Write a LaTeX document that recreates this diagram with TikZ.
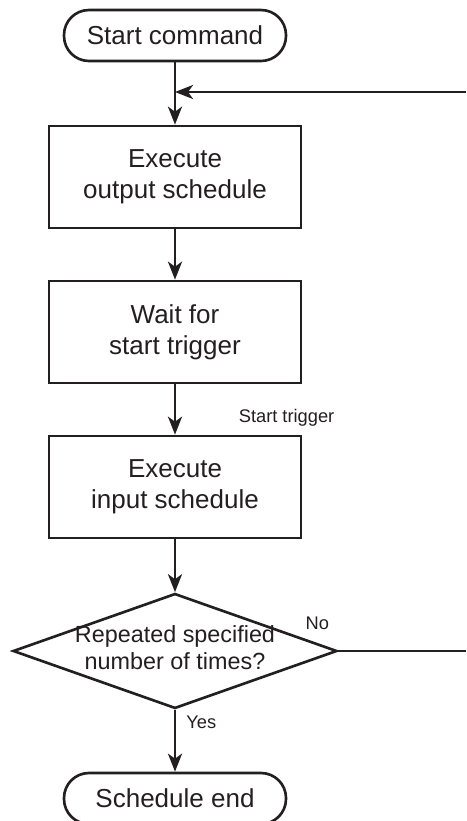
\documentclass[tikz,border=0pt]{standalone}
\usepackage{fontspec}
\setmainfont{Liberation Sans}
\usetikzlibrary{arrows.meta, shapes.geometric, positioning}
\definecolor{LineDark}{RGB}{35,31,32}

\begin{document}
\begin{tikzpicture}[
    term/.style={rectangle,rounded corners=0.5cm,draw=LineDark,line width=1.5pt,
                 text=LineDark,font=\fontsize{14.8}{17.8}\selectfont,
                 minimum width=4.44cm,minimum height=1.02cm},
    proc/.style={rectangle,draw=LineDark,line width=1.5pt,text=LineDark,
                 font=\fontsize{14.8}{17.8}\selectfont,align=center,
                 minimum width=5.04cm,minimum height=2.04cm},
    dec/.style={diamond,draw=LineDark,line width=1.5pt,text=LineDark,
                font=\fontsize{13.3}{15.3}\selectfont,aspect=2.82,inner sep=0pt,
                minimum width=6.48cm,minimum height=2.3cm},
    arr/.style={-{Stealth[length=0.36cm,width=0.28cm,inset=0.1cm]},LineDark,line width=1.5pt},
    ln/.style={LineDark,line width=1.5pt},
    lbl/.style={text=LineDark,font=\fontsize{10.4}{12.5}\selectfont,inner sep=0pt}
  ]
  \useasboundingbox (0,0) rectangle (9.32,-16.42);

  \node[term] (s) at (3.5,-0.71) {Start command};
  \node[proc] (1) at (3.5,-3.54) {Execute\\output schedule};
  \node[proc] (2) at (3.5,-6.64) {Wait for\\start trigger};
  \node[proc] (3) at (3.5,-9.74) {Execute\\input schedule};
  \node[dec] (d) at (3.5,-13.02)
    {\makebox[0pt]{\begin{tabular}{@{}c@{}}Repeated specified\\number of times?\end{tabular}}};
  \node[term] (e) at (3.5,-15.97) {Schedule end};

  % loop back
  \coordinate (m) at (3.5,-1.84);
  \coordinate (rA) at (9.32,-1.84);
  \coordinate (rB) at (9.32,-13.02);

  \draw[arr] (s) -- (1);
  \draw[arr] (rA) -- (m);
  \draw[arr] (1) -- (2);
  \draw[arr] (2) -- node[lbl,pos=0.67,right=1.25cm]{Start trigger} (3);
  \draw[arr] (3) -- (d);
  \draw[ln] (d.east) -- (rB);
  \draw[arr] (d) -- node[lbl,pos=0.2,right=0.2cm]{Yes} (e);
  \node[lbl,above left=0.42cm and 0.18cm of d.east] {No};
\end{tikzpicture}
\end{document}
